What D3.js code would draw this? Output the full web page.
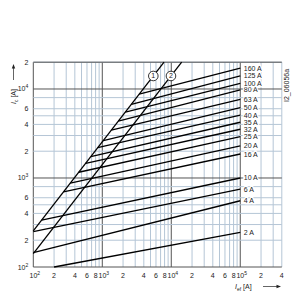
<!doctype html>
<html>
<head>
<style>
    body {
        margin: 0;
        background: #fff;
    }
    svg {
        display: block;
    }
    text {
        font-family: 'Liberation Sans', Arial, sans-serif;
        font-size: 7px;
        fill: #222;
    }
    .grid line {
        stroke: #b5c6d6;
        stroke-width: 1;
    }
    .grid line.decade {
        stroke: #555;
    }
    .curve {
        fill: none;
        stroke: #000;
        stroke-width: 1.3;
    }
    .rating {
        paint-order: stroke;
        stroke: #fff;
        stroke-width: 2.5px;
    }
</style>
<script src="https://d3js.org/d3.v7.min.js"></script>
</head>
<body>
<svg width="300" height="300"></svg>
<script>
    // fuse ratings, each line runs from its start point to I_ef = 1e5
    const ratings = ['2 A', '4 A', '6 A', '10 A', '16 A', '20 A', '25 A', '32 A', '35 A', '40 A', '50 A', '63 A', '80 A', '100 A', '125 A', '160 A'];
    const startIef = [200, 100, 100, 132, 274, 344, 455, 574, 681, 858, 1034, 1350, 1706, 2162, 2641, 3425];
    const startIc = [100, 145, 250, 337, 699, 877, 1160, 1464, 1737, 2188, 2637, 3443, 4350, 5513, 6735, 8733];
    const endIef = 100000;
    const endIc = [245, 555, 750, 1000, 1860, 2300, 2910, 3530, 4230, 5100, 6160, 7660, 9800, 11600, 14000, 17200];

    // the two diagonals (1) and (2)
    const diagNames = ['1', '2'];
    const diagIef = [[100, 7850], [100, 14150]];
    const diagIc = [[255, 20000], [141.4, 20000]];
    const diagMarkIc = [14000, 14000];

    // tick labels
    const xTicks = [100, 200, 400, 600, 800, 1000, 2000, 4000, 6000, 8000, 10000, 20000, 40000, 60000, 80000, 100000, 200000, 400000];
    const xTickLabels = ['10|2', '2', '4', '6', '8', '10|3', '2', '4', '6', '8', '10|4', '2', '4', '6', '8', '10|5', '2', '4'];
    const yTicks = [100, 200, 400, 600, 1000, 2000, 4000, 6000, 10000, 20000];
    const yTickLabels = ['10|2', '2', '4', '6', '10|3', '2', '4', '6', '10|4', '2'];
    const yGridSteps = [1, 2, 3, 4, 5, 6, 8];

    const svg = d3.select('svg');

    const xScale = d3.scaleLog()
        .domain([100, 400000])
        .range([33.3, 281.8]);

    const yScale = d3.scaleLog()
        .domain([100, 20000])
        .range([267, 62.2]);

    const plotLeft = xScale(100), plotRight = xScale(400000);
    const plotTop = yScale(20000), plotBottom = yScale(100);

    // grid
    const grid = svg.append('g').attr('class', 'grid');
    const xGrid = [];
    [100, 1000, 10000, 100000].forEach(d => {
        for (let m = 1; m <= 9; m++) if (m * d <= 400000) xGrid.push({ v: m * d, dec: m === 1 });
    });
    const yGrid = [];
    [100, 1000, 10000].forEach(d => {
        yGridSteps.forEach(m => { if (m * d <= 20000) yGrid.push({ v: m * d, dec: m === 1 }); });
    });

    grid.selectAll('line.v')
        .data(xGrid.sort((a, b) => a.dec - b.dec))
        .enter().append('line')
        .attr('class', g => g.dec ? 'v decade' : 'v')
        .attr('x1', g => xScale(g.v)).attr('x2', g => xScale(g.v))
        .attr('y1', plotTop).attr('y2', plotBottom);

    grid.selectAll('line.h')
        .data(yGrid.sort((a, b) => a.dec - b.dec))
        .enter().append('line')
        .attr('class', g => g.dec ? 'h decade' : 'h')
        .attr('x1', plotLeft).attr('x2', plotRight)
        .attr('y1', g => yScale(g.v)).attr('y2', g => yScale(g.v));

    // top edge of the frame
    grid.append('line').attr('class', 'decade')
        .attr('x1', plotLeft).attr('x2', plotRight).attr('y1', plotTop).attr('y2', plotTop);

    // fuse lines
    svg.append('g').selectAll('line')
        .data(ratings)
        .enter().append('line')
        .attr('class', 'curve')
        .attr('x1', (r, i) => xScale(startIef[i]))
        .attr('y1', (r, i) => yScale(startIc[i]))
        .attr('x2', xScale(endIef))
        .attr('y2', (r, i) => yScale(endIc[i]));

    // diagonals
    svg.append('g').selectAll('line')
        .data(diagNames)
        .enter().append('line')
        .attr('class', 'curve')
        .attr('x1', (n, i) => xScale(diagIef[i][0]))
        .attr('y1', (n, i) => yScale(diagIc[i][0]))
        .attr('x2', (n, i) => xScale(diagIef[i][1]))
        .attr('y2', (n, i) => yScale(diagIc[i][1]));

    const marks = svg.append('g').selectAll('g')
        .data(diagNames)
        .enter().append('g')
        .attr('transform', (n, i) => {
            const ratio = diagIc[i][0] / diagIef[i][0];
            return `translate(${xScale(diagMarkIc[i] / ratio)}, ${yScale(diagMarkIc[i])})`;
        });
    marks.append('circle')
        .attr('r', 4.8)
        .attr('fill', '#fff')
        .attr('stroke', '#000')
        .attr('stroke-width', 0.8);
    marks.append('text')
        .attr('text-anchor', 'middle')
        .attr('dy', 2.5)
        .text(n => n);

    // rating labels
    svg.append('g').selectAll('text')
        .data(ratings)
        .enter().append('text')
        .attr('class', 'rating')
        .attr('x', xScale(endIef) + 3.5)
        .attr('y', (r, i) => yScale(endIc[i]) + 2.5)
        .text(r => r);

    // tick labels with superscript exponent
    const power = (sel) => sel.each(function (l) {
        const parts = l.split('|');
        const t = d3.select(this);
        t.append('tspan').text(parts[0]);
        if (parts[1]) t.append('tspan').attr('dy', -3).attr('font-size', '5px').text(parts[1]);
    });

    svg.append('g').selectAll('text')
        .data(xTickLabels)
        .enter().append('text')
        .attr('x', (l, i) => xScale(xTicks[i]) + (l.includes('|') ? 1.5 : 0))
        .attr('y', plotBottom + 11)
        .attr('text-anchor', 'middle')
        .call(power);

    svg.append('g').selectAll('text')
        .data(yTickLabels)
        .enter().append('text')
        .attr('x', plotLeft - 5)
        .attr('y', (l, i) => yScale(yTicks[i]) + 2.5)
        .attr('text-anchor', 'end')
        .call(power);

    // axis titles
    const yTitle = svg.append('text')
        .attr('transform', `translate(16, 104) rotate(-90)`);
    yTitle.append('tspan').attr('font-style', 'italic').text('I');
    yTitle.append('tspan').attr('font-size', '5px').attr('dy', 1.5).text('c');
    yTitle.append('tspan').attr('dy', -1.5).text(' [A]');

    svg.append('line')
        .attr('x1', 13.5).attr('x2', 13.5).attr('y1', 80).attr('y2', 66)
        .attr('stroke', '#222').attr('stroke-width', 0.7);
    svg.append('path')
        .attr('d', 'M13.5,64 L11.8,68.5 L15.2,68.5 Z')
        .attr('fill', '#222');

    const xTitle = svg.append('text')
        .attr('transform', 'translate(235, 289)');
    xTitle.append('tspan').attr('font-style', 'italic').text('I');
    xTitle.append('tspan').attr('font-size', '5px').attr('dy', 1.5).text('ef');
    xTitle.append('tspan').attr('dy', -1.5).text(' [A]');

    svg.append('line')
        .attr('x1', 263).attr('x2', 278).attr('y1', 286.5).attr('y2', 286.5)
        .attr('stroke', '#222').attr('stroke-width', 0.7);
    svg.append('path')
        .attr('d', 'M281,286.5 L276.5,284.8 L276.5,288.2 Z')
        .attr('fill', '#222');

    svg.append('text')
        .attr('transform', 'translate(289, 102) rotate(-90)')
        .text('I2_06056a');
</script>
</body>
</html>
